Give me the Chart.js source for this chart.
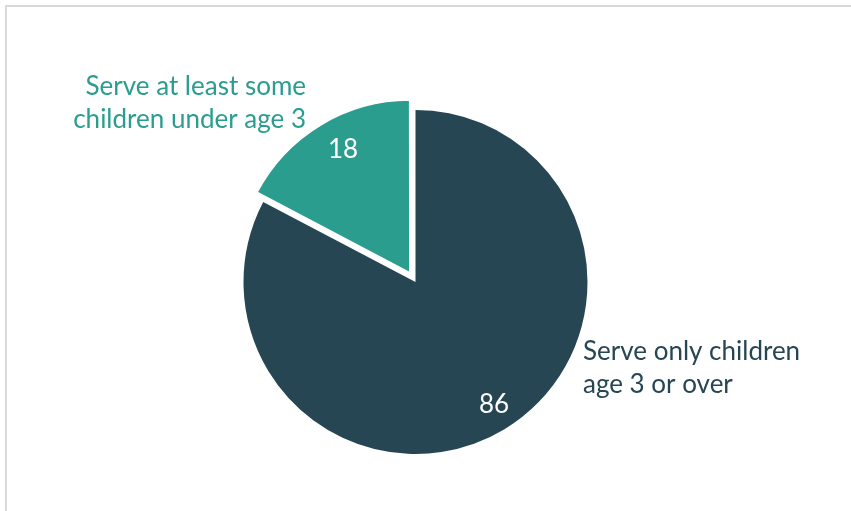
<!DOCTYPE html>
<html>
<head>
<meta charset="utf-8">
<script src="https://cdn.jsdelivr.net/npm/chart.js@4"></script>
<style>
  html, body { margin: 0; padding: 0; background: #ffffff; }
  #wrap { position: relative; width: 851px; height: 511px; overflow: hidden; }
  #frame { position: absolute; left: 5px; top: 5px; width: 900px; height: 600px;
           border-top: 2px solid #d9d9d9; border-left: 2px solid #d9d9d9; box-sizing: border-box; }
  canvas { position: absolute; left: 0; top: 0; }
</style>
</head>
<body>
<div id="wrap">
  <div id="frame"></div>
  <canvas id="c" width="851" height="511"></canvas>
</div>
<script>
// ---- data ----
const categories = [
  ["Serve only children", "age 3 or over"],
  ["Serve at least some", "children under age 3"]
];
const values = [86, 18];
const sliceColors = ["#264653", "#2a9d8f"];
const sliceOffsets = [0, 42];
const sliceBorders = [0, 2];

// ---- label layout (relative to pie centre) ----
const FONT = "26px Lato, 'DejaVu Sans', sans-serif";
const catLabelLayout = [
  { dx: 167.5, dy: 78, align: "left" },
  { dx: -109.5, dy: -187, align: "right" }
];
const valueLabelLayout = [
  { dx: 78.5, dy: 122.5 },
  { dx: -72.5, dy: -132.5 }
];
const LINE_H = 33;

const labelPlugin = {
  id: "pieLabels",
  afterDatasetsDraw(chart) {
    const ctx = chart.ctx;
    const meta = chart.getDatasetMeta(0);
    ctx.save();
    ctx.font = FONT;
    meta.data.forEach((arc, i) => {
      const cx = arc.x, cy = arc.y;
      const v = valueLabelLayout[i];
      ctx.fillStyle = "#ffffff";
      ctx.textAlign = "center";
      ctx.textBaseline = "middle";
      ctx.fillText(String(values[i]), cx + v.dx, cy + v.dy);
      const c = catLabelLayout[i];
      ctx.fillStyle = sliceColors[i];
      ctx.textAlign = c.align;
      ctx.textBaseline = "alphabetic";
      categories[i].forEach((line, k) => {
        ctx.fillText(line, cx + c.dx, cy + c.dy + k * LINE_H);
      });
    });
    ctx.restore();
  }
};

new Chart(document.getElementById("c"), {
  type: "pie",
  data: {
    labels: categories.map(c => c.join(" ")),
    datasets: [{
      data: values,
      backgroundColor: sliceColors,
      borderColor: "#ffffff",
      borderWidth: sliceBorders,
      offset: sliceOffsets,
      hoverOffset: 0
    }]
  },
  options: {
    responsive: false,
    animation: false,
    radius: 172,
    layout: { padding: { left: 0, right: 20, top: 53, bottom: 0 } },
    plugins: {
      legend: { display: false },
      tooltip: { enabled: false }
    },
    events: []
  },
  plugins: [labelPlugin]
});
</script>
</body>
</html>
